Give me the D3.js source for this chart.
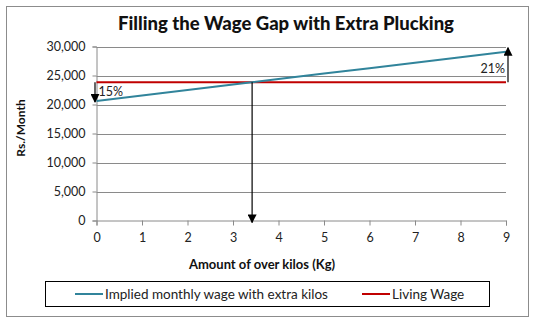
<!DOCTYPE html>
<html><head><meta charset="utf-8">
<script src="https://cdn.jsdelivr.net/npm/d3@7"></script>
<style>body{margin:0;background:#fff}svg{display:block}</style>
</head><body>
<svg id="c" width="536" height="322"></svg>
<script>
const kilos = [0,1,2,3,4,5,6,7,8,9];
const impliedWage = [20600,21545,22490,23435,24380,25325,26270,27215,28160,29100];
const livingWage = [23850,23850,23850,23850,23850,23850,23850,23850,23850,23850];
const yTicks = [0,5000,10000,15000,20000,25000,30000];
const crossing = 3.42;
const gapLeft = "15%", gapRight = "21%";

const svg = d3.select("#c");
const font = "Lato, 'Open Sans', sans-serif";
const x = d3.scaleLinear().domain([0,9]).range([96.5,506]);
const y = d3.scaleLinear().domain([0,30000]).range([220.5,46.5]);

svg.append("rect").attr("x",6.5).attr("y",6.5).attr("width",522).attr("height",310)
  .attr("fill","#fff").attr("stroke","#8c8c8c").attr("stroke-width",1);

svg.append("text").attr("x",286).attr("y",30).attr("text-anchor","middle")
  .attr("font-family",font).attr("font-weight","900").attr("font-size",18.5).attr("fill","#111")
  .text("Filling the Wage Gap with Extra Plucking");

// gridlines
svg.append("g").selectAll("line").data(yTicks.filter(d=>d>0)).join("line")
  .attr("x1",x(0)).attr("x2",x(9)).attr("y1",d=>Math.round(y(d))+0.5).attr("y2",d=>Math.round(y(d))+0.5)
  .attr("stroke","#8a8a8a").attr("stroke-width",1);

const yAxis = svg.append("g").attr("transform",`translate(${x(0)},0)`)
  .call(d3.axisLeft(y).tickValues(yTicks).tickSize(4).tickPadding(7).tickFormat(d3.format(",")));
const xAxis = svg.append("g").attr("transform",`translate(0,${y(0)})`)
  .call(d3.axisBottom(x).tickValues(kilos).tickSize(5).tickPadding(8).tickFormat(d3.format("d")));
[yAxis,xAxis].forEach(a=>{
  a.select(".domain").attr("stroke","#8a8a8a");
  a.selectAll(".tick line").attr("stroke","#8a8a8a");
  a.selectAll("text").attr("font-family",font).attr("font-size",12.5).attr("fill","#222");
});

svg.append("text").attr("transform","translate(25,128) rotate(-90)").attr("text-anchor","middle")
  .attr("font-family",font).attr("font-weight","bold").attr("font-size",12).attr("fill","#111").text("Rs./Month");
svg.append("text").attr("x",262).attr("y",269).attr("text-anchor","middle")
  .attr("font-family",font).attr("font-weight","bold").attr("font-size",13).attr("fill","#111").text("Amount of over kilos (Kg)");

const line = d3.line().x((d,i)=>x(kilos[i])).y(d=>y(d));
svg.append("path").datum(livingWage).attr("d",line).attr("fill","none").attr("stroke","#c00000").attr("stroke-width",2);
svg.append("path").datum(impliedWage).attr("d",line).attr("fill","none").attr("stroke","#31849b").attr("stroke-width",2);

const defs = svg.append("defs");
defs.append("marker").attr("id","ah").attr("viewBox","0 0 10 10").attr("refX",9).attr("refY",5)
  .attr("markerWidth",9).attr("markerHeight",9).attr("markerUnits","userSpaceOnUse").attr("orient","auto")
  .append("path").attr("d","M0,0L10,5L0,10Z").attr("fill","#000");

function arrow(xv,y1,y2){
  svg.append("line").attr("x1",xv).attr("x2",xv).attr("y1",y1).attr("y2",y2)
    .attr("stroke","#000").attr("stroke-width",1.2).attr("marker-end","url(#ah)");
}
arrow(x(0)-1.5, y(livingWage[0]), y(impliedWage[0])+1);
arrow(x(9)+2, y(livingWage[9]), y(impliedWage[9])-4);
arrow(x(crossing), y(livingWage[0]), y(0)+2);

svg.append("text").attr("x",x(0)+2).attr("y",96).attr("font-family",font).attr("font-size",12.5).attr("fill","#222").text(gapLeft);
svg.append("text").attr("x",x(9)-1).attr("y",73).attr("text-anchor","end").attr("font-family",font).attr("font-size",12.5).attr("fill","#222").text(gapRight);

// legend
svg.append("rect").attr("x",45.5).attr("y",281.5).attr("width",444).attr("height",25).attr("fill","#fff").attr("stroke","#000");
const leg = [{name:"Implied monthly wage with extra kilos",color:"#31849b",x:75},{name:"Living Wage",color:"#c00000",x:362}];
leg.forEach(l=>{
  svg.append("line").attr("x1",l.x).attr("x2",l.x+28).attr("y1",294).attr("y2",294).attr("stroke",l.color).attr("stroke-width",2);
  svg.append("text").attr("x",l.x+30).attr("y",298.5).attr("font-family",font).attr("font-size",13.5).attr("fill","#222").text(l.name);
});
</script>
</body></html>
